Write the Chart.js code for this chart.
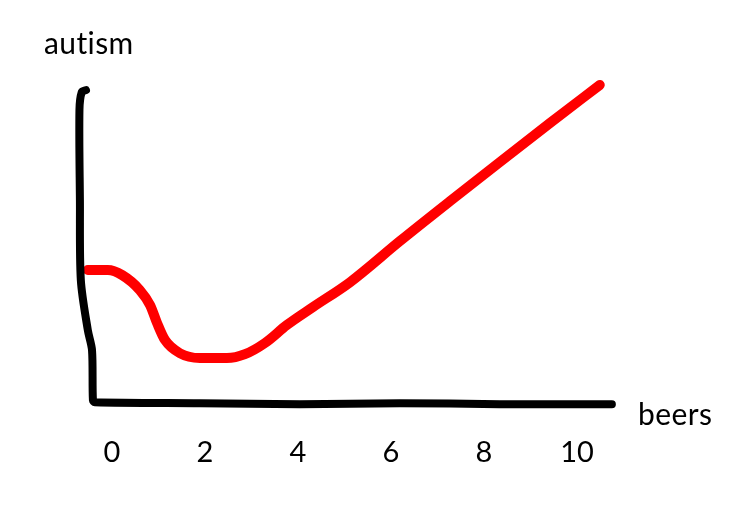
<!DOCTYPE html>
<html>
<head>
<meta charset="utf-8">
<script src="https://cdn.jsdelivr.net/npm/chart.js@4/dist/chart.umd.min.js"></script>
<style>
  html, body { margin: 0; padding: 0; background: #fff; }
  #wrap { width: 743px; height: 523px; }
</style>
</head>
<body>
<div id="wrap"><canvas id="chart" width="743" height="523"></canvas></div>
<script>
// valores (x = cervezas, y = autismo)
const curveX = [-0.52, -0.09, 0.22, 0.60, 0.82, 0.97, 1.14, 1.46, 1.89, 2.47, 2.86, 3.29, 3.76, 4.32, 5.12, 6.19, 7.27, 8.34, 9.42, 10.49];
const curveY = [4.16, 4.16, 4.0, 3.53, 3.06, 2.5, 1.97, 1.56, 1.41, 1.41, 1.53, 1.88, 2.44, 3.0, 3.78, 5.06, 6.31, 7.53, 8.75, 9.94];

// ejes dibujados a mano
const axisX = [-0.56, -0.65, -0.70, -0.69, -0.67, -0.52, -0.43, -0.41, -0.37, 1.89, 4.04, 6.19, 8.34, 10.75];
const axisY = [9.78, 9.72, 9.16, 6.34, 3.84, 2.28, 1.66, 0.09, 0.03, 0, -0.03, 0, -0.03, -0.03];

const tickValues = [0, 2, 4, 6, 8, 10];
const xLabel = 'beers';
const yLabel = 'autism';

const toPoints = (xs, ys) => xs.map((x, i) => ({ x, y: ys[i] }));

const labelsPlugin = {
  id: 'handLabels',
  afterDraw(chart) {
    const { ctx } = chart;
    ctx.save();
    ctx.fillStyle = '#000';
    ctx.font = '30px Lato';
    ctx.letterSpacing = '0.4px'; // evita la ligadura "ti"
    ctx.textBaseline = 'alphabetic';
    ctx.textAlign = 'left';
    ctx.fillText(yLabel, 44, 54);
    ctx.fillText(xLabel, 638, 425);
    ctx.restore();
  }
};

new Chart(document.getElementById('chart'), {
  type: 'line',
  data: {
    datasets: [
      {
        label: 'ejes',
        data: toPoints(axisX, axisY),
        borderColor: '#000',
        borderWidth: 8,
        borderCapStyle: 'round',
        borderJoinStyle: 'round',
        pointRadius: 0,
        tension: 0.3,
        clip: false
      },
      {
        label: 'curva',
        data: toPoints(curveX, curveY),
        borderColor: '#ff0000',
        borderWidth: 10,
        borderCapStyle: 'round',
        borderJoinStyle: 'round',
        pointRadius: 0,
        cubicInterpolationMode: 'monotone',
        clip: false
      }
    ]
  },
  options: {
    responsive: false,
    animation: false,
    layout: { padding: { left: 65.5, right: 119.5, top: 51, bottom: 53 } },
    plugins: { legend: { display: false }, tooltip: { enabled: false } },
    scales: {
      x: {
        type: 'linear',
        min: -1,
        max: 11,
        border: { display: false },
        grid: { display: false, drawTicks: false },
        afterBuildTicks: scale => { scale.ticks = tickValues.map(v => ({ value: v })); },
        ticks: { color: '#000', padding: 0, font: { family: 'Lato', size: 29 }, maxRotation: 0 }
      },
      y: {
        type: 'linear',
        min: -1,
        max: 11,
        display: false
      }
    }
  },
  plugins: [labelsPlugin]
});
</script>
</body>
</html>
